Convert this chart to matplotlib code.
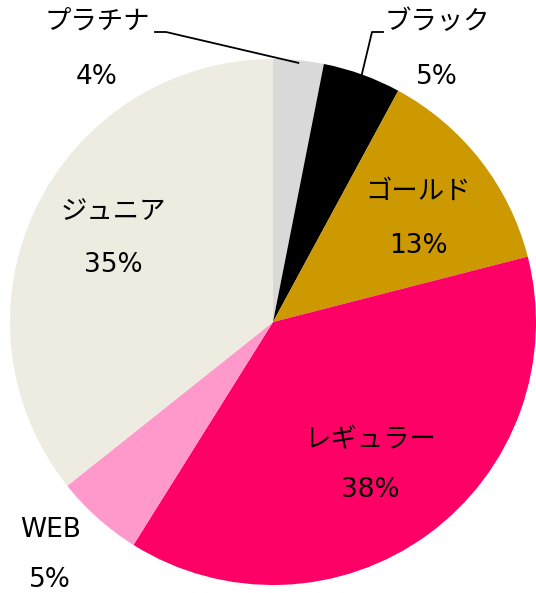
import numpy as np
import matplotlib.pyplot as plt

# data
labels = ['プラチナ', 'ブラック', 'ゴールド', 'レギュラー', 'WEB', 'ジュニア']
values = [3.1, 4.8, 13.1, 37.9, 5.4, 35.7]
pct_labels = ['4%', '5%', '13%', '38%', '5%', '35%']
colors = ['#D9D9D9', '#000000', '#CC9900', '#FF0066', '#FF99CC', '#EEEBE0']

plt.rcParams['font.family'] = ['DejaVu Sans', 'Noto Sans CJK JP']

W, H = 536, 593
cx, cy, R = 273, 322, 263

fig = plt.figure(figsize=(W / 100, H / 100), dpi=100)
ax = fig.add_axes([(cx - R) / W, (H - cy - R) / H, 2 * R / W, 2 * R / H])

wedges, _ = ax.pie(values, colors=colors, startangle=90, counterclock=False,
                   radius=1, wedgeprops=dict(linewidth=0))
ax.set_xlim(-1, 1)
ax.set_ylim(-1, 1)
ax.set_aspect('auto')
ax.axis('off')


def px(x, y):
    # pixel position (from top-left) -> data coords
    return (x - cx) / R, (cy - y) / R


# label positions in pixels (name, pct)
name_pos = [(97, 22), (437, 22), (418, 192), (370, 440), (51, 530), (113, 212)]
pct_pos = [(97, 77), (437, 77), (418, 246), (370, 490), (50, 580), (113, 265)]

for i in range(len(labels)):
    ax.text(*px(*name_pos[i]), labels[i], ha='center', va='center', fontsize=19,
            clip_on=False)
    ax.text(*px(*pct_pos[i]), pct_labels[i], ha='center', va='center', fontsize=19,
            clip_on=False)

# leader lines to the small slices
leaders = {0: [(155, 32), (166, 32)], 1: [(383, 32), (372, 32)]}
for i, pts in leaders.items():
    w = wedges[i]
    mid = np.deg2rad((w.theta1 + w.theta2) / 2)
    end = (0.99 * np.cos(mid), 0.99 * np.sin(mid))
    xs = [px(*p)[0] for p in pts] + [end[0]]
    ys = [px(*p)[1] for p in pts] + [end[1]]
    ax.plot(xs, ys, color='black', linewidth=1.3, clip_on=False)

fig.savefig('out.png', dpi=100)
